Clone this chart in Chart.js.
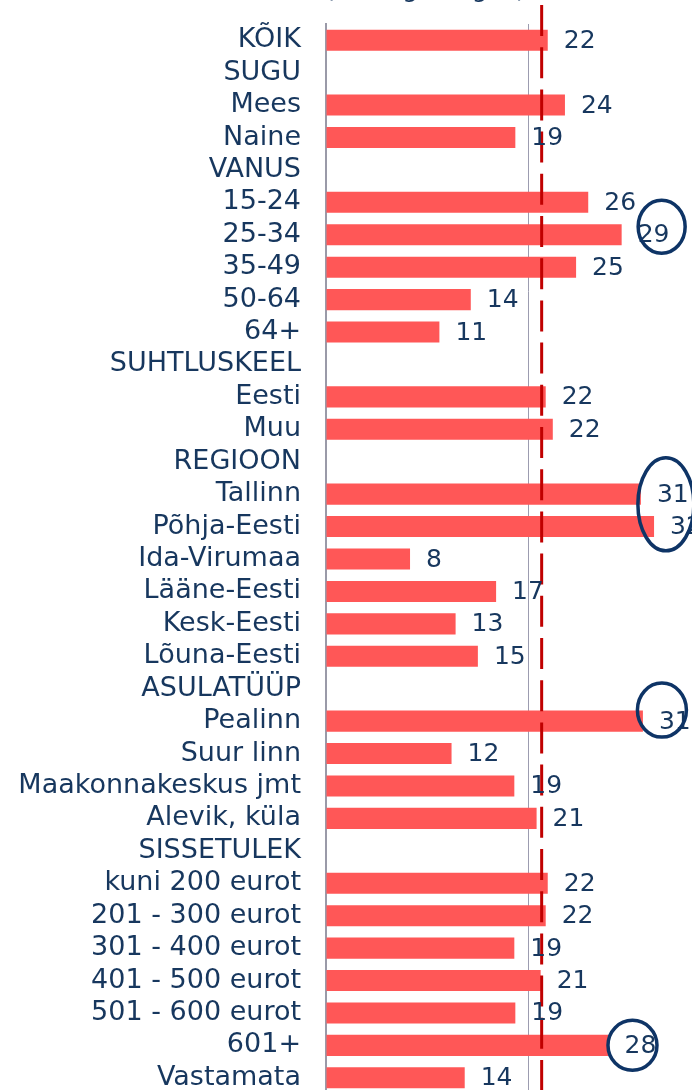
<!DOCTYPE html>
<html><head><meta charset="utf-8">
<script src="https://cdn.jsdelivr.net/npm/chart.js@4/dist/chart.umd.min.js"></script>
<style>
html,body{margin:0;padding:0;overflow:hidden;background:#fff;width:692px;height:1090px}
#wrap{position:absolute;left:0;top:0;width:760px;height:1094px}
</style></head>
<body><div id="wrap"><canvas id="c" width="760" height="1094"></canvas></div>
<script>
const categories = ['KÕIK','SUGU','Mees','Naine','VANUS','15-24','25-34','35-49','50-64','64+',
  'SUHTLUSKEEL','Eesti','Muu','REGIOON','Tallinn','Põhja-Eesti','Ida-Virumaa','Lääne-Eesti',
  'Kesk-Eesti','Lõuna-Eesti','ASULATÜÜP','Pealinn','Suur linn','Maakonnakeskus jmt','Alevik, küla',
  'SISSETULEK','kuni 200 eurot','201 - 300 eurot','301 - 400 eurot','401 - 500 eurot',
  '501 - 600 eurot','601+','Vastamata'];
const values = [21.9,null,23.6,18.7,null,25.9,29.2,24.7,14.3,11.2,
  null,21.7,22.4,null,31.1,32.4,8.3,16.8,
  12.8,15.0,null,31.3,12.4,18.6,20.8,
  null,21.9,21.7,18.6,21.2,
  18.7,27.9,13.7];
const valueLabels = ['22','','24','19','','26','29','25','14','11',
  '','22','22','','31','32','8','17',
  '13','15','','31','12','19','21',
  '','22','22','19','21',
  '19','28','14'];
const referenceValue = 21.3;
const gridValue = 20;
const titleText = '(% kõigi hulgas)';
const highlights = [
  {from:'25-34', to:'25-34', dx:40, dy:-8, rx:23.5, ry:26.5},
  {from:'Tallinn', to:'Põhja-Eesti', dx:25, dy:-6, rx:28, ry:46.5},
  {from:'Pealinn', to:'Pealinn', dx:19, dy:-11, rx:24.5, ry:27},
  {from:'601+', to:'601+', dx:24, dy:0, rx:24.5, ry:25}
];

const NAVY = '#17375E';
const FONT = 'DejaVu Sans';

const overlay = {
  id:'overlay',
  afterDatasetsDraw(chart){
    const ctx = chart.ctx, xs = chart.scales.x, ys = chart.scales.y;
    const meta = chart.getDatasetMeta(0);
    // red dashed reference line
    const rx = xs.getPixelForValue(referenceValue);
    ctx.save();
    ctx.strokeStyle = '#C00000';
    ctx.lineWidth = 3;
    ctx.setLineDash([31, 11.2]);
    ctx.beginPath(); ctx.moveTo(rx, 5); ctx.lineTo(rx, chart.height); ctx.stroke();
    ctx.restore();
    // value labels
    ctx.save();
    ctx.fillStyle = NAVY;
    ctx.font = '25px "' + FONT + '"';
    ctx.textAlign = 'left'; ctx.textBaseline = 'middle';
    meta.data.forEach((bar, i) => {
      if (values[i] == null) return;
      ctx.fillText(valueLabels[i], bar.x + 16, bar.y + 1);
    });
    ctx.restore();
    // title (clipped at top)
    ctx.save();
    ctx.fillStyle = NAVY; ctx.font = '25px "' + FONT + '"';
    ctx.textAlign = 'left'; ctx.textBaseline = 'alphabetic';
    ctx.fillText(titleText, 325, -3);
    ctx.restore();
    // highlight ellipses
    ctx.save();
    ctx.strokeStyle = '#0E3466'; ctx.lineWidth = 3.5;
    highlights.forEach(h => {
      const i1 = categories.indexOf(h.from), i2 = categories.indexOf(h.to);
      const cy = (ys.getPixelForValue(i1) + ys.getPixelForValue(i2)) / 2 + h.dy;
      const cx = xs.getPixelForValue(values[i1]) + h.dx;
      ctx.beginPath(); ctx.ellipse(cx, cy, h.rx, h.ry, 0, 0, Math.PI * 2); ctx.stroke();
    });
    ctx.restore();
  }
};

new Chart(document.getElementById('c'), {
  type: 'bar',
  data: { labels: categories, datasets: [{ data: values, backgroundColor: '#FF5757', barPercentage: 0.65, categoryPercentage: 1 }] },
  options: {
    responsive: false, animation: false, indexAxis: 'y',
    layout: { padding: { top: 24, right: 29, left: 0, bottom: 0 } },
    plugins: { legend: { display: false }, tooltip: { enabled: false } },
    scales: {
      x: { min: 0, max: 40,
        ticks: { display: false, stepSize: gridValue },
        grid: { drawTicks: false, lineWidth: 1, color: c => c.tick && c.tick.value === gridValue ? '#9C9CB0' : 'rgba(0,0,0,0)' },
        border: { display: false },
        afterFit(s) { s.height = 0; } },
      y: { ticks: { color: NAVY, font: { family: FONT, size: 27 }, padding: 25, autoSkip: false },
        grid: { display: false, drawTicks: false },
        border: { display: true, color: '#9A9AA8', width: 2 },
        afterFit(s) { s.width = 326; s.paddingTop = 0; s.paddingBottom = 0; } }
    }
  },
  plugins: [overlay]
});
</script>
</body></html>
